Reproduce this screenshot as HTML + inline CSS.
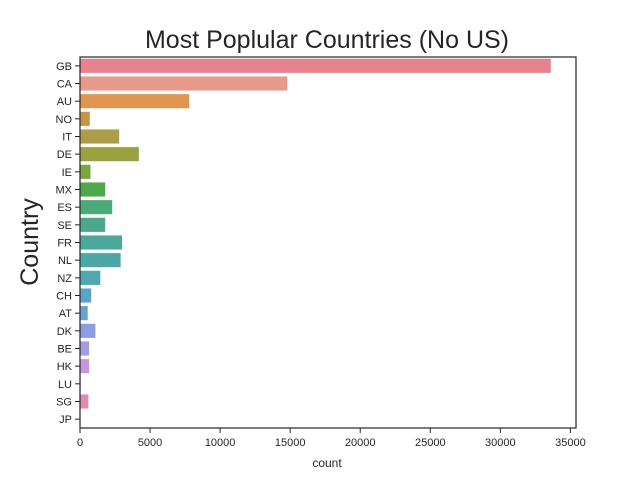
<!DOCTYPE html>
<html><head><meta charset="utf-8"><style>
body{margin:0;background:#fff;}
svg{font-family:"Liberation Sans",sans-serif;}
</style></head><body>
<svg id="chart" width="640" height="480">
<text x="327" y="48" text-anchor="middle" font-size="25" fill="#262626">Most Poplular Countries (No US)</text>
<text transform="translate(38,242) rotate(-90)" text-anchor="middle" font-size="25" fill="#262626">Country</text>
<text x="327" y="467" text-anchor="middle" font-size="12" fill="#262626">count</text>
<g id="bars"></g><g id="axes"></g>
</svg>
<script>
const categories=["GB","CA","AU","NO","IT","DE","IE","MX","ES","SE","FR","NL","NZ","CH","AT","DK","BE","HK","LU","SG","JP"].slice(0,20);
const cats=["GB","CA","AU","NO","IT","DE","IE","MX","ES","SE","FR","NL","NZ","CH","AT","DK","BE","HK","LU","SG","JP"];
const counts=[33600,14800,7800,700,2800,4200,750,1800,2300,1800,3000,2900,1450,800,550,1100,650,650,50,600,30];
const xTicks=[0,5000,10000,15000,20000,25000,30000,35000];
const colors=["#e8828f","#e89a8a","#e0964f","#c9944a","#ad9c48","#9aa13f","#78a83e","#4daa4a","#4aab78","#4aa98d","#4ba99c","#4ca8a6","#4da8b2","#57a5cc","#6aa0d8","#8a9de6","#a79be6","#c894e0","#db8fd3","#e08ab5","#e787a3"];
const L=80,R=576,T=57,B=428,x0=0,x1=35400;
const n=cats.length,band=(B-T)/n;
const xs=v=>L+(v-x0)/(x1-x0)*(R-L);
const ys=i=>T+band*i;
const NS="http://www.w3.org/2000/svg";
const bars=document.getElementById('bars'),axes=document.getElementById('axes');
function mk(tag,attrs,parent,txt){const e=document.createElementNS(NS,tag);for(const k in attrs)e.setAttribute(k,attrs[k]);if(txt!==undefined)e.textContent=txt;parent.appendChild(e);return e;}
cats.forEach((c,i)=>{
 const r=mk('rect',{x:xs(0),y:ys(i)+band*0.1,width:xs(counts[i])-xs(0),height:band*0.8,fill:colors[i]},bars);
 
 
 const cy=ys(i)+band/2;
 mk('line',{x1:L-5,x2:L,y1:cy,y2:cy,stroke:'#262626','stroke-width':1},axes);
 const t=mk('text',{x:L-8,y:cy+4,'text-anchor':'end','font-size':11,fill:'#262626'},axes,c);
 
 
});
xTicks.forEach(v=>{
 const x=xs(v);
 mk('line',{x1:x,x2:x,y1:B,y2:B+5,stroke:'#262626','stroke-width':1},axes);
 const t=mk('text',{x:x,y:B+18,'text-anchor':'middle','font-size':11,fill:'#262626'},axes,v);
 
 
});
const fr=mk('rect',{x:L,y:T,width:R-L,height:B-T,fill:'none',stroke:'#262626','stroke-width':1.2},axes);


</script>
</body></html>
